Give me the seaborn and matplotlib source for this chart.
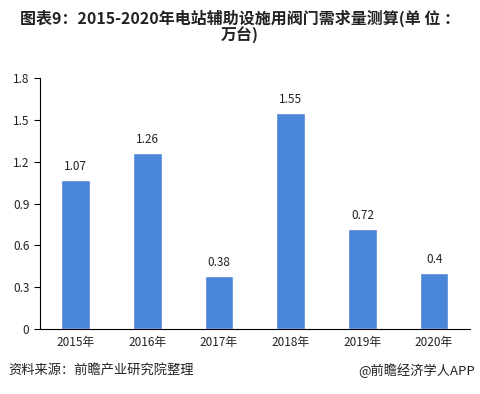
import matplotlib
matplotlib.use("Agg")
import matplotlib.pyplot as plt
import seaborn as sns
import pandas as pd

years = ["2015年", "2016年", "2017年", "2018年", "2019年", "2020年"]
demand = [1.07, 1.26, 0.38, 1.55, 0.72, 0.4]
value_labels = ["1.07", "1.26", "0.38", "1.55", "0.72", "0.4"]
y_ticks = [0, 0.3, 0.6, 0.9, 1.2, 1.5, 1.8]

sns.set_style("white")
plt.rcParams['font.family'] = ['Noto Sans CJK SC', 'DejaVu Sans']

df = pd.DataFrame({"year": years, "demand": demand})

fig = plt.figure(figsize=(4.8, 3.94), dpi=100)
ax = fig.add_axes([0.083, 0.165, 0.896, 0.637])
sns.barplot(data=df, x="year", y="demand", color="#4a86d8", saturation=1,
            width=0.4, ax=ax)

for i, (v, lab) in enumerate(zip(demand, value_labels)):
    ax.text(i, v + 0.05, lab, ha="center", va="bottom", fontsize=8.5, color="#222222")

ax.set_xlim(-0.5, len(years) - 0.5)
ax.set_ylim(0, 1.8)
ax.set_yticks(y_ticks)
ax.set_yticklabels([f"{t:g}" for t in y_ticks], fontsize=8.5, color="#222222")
ax.set_xlabel("")
ax.set_ylabel("")
ax.tick_params(axis="x", length=0, labelsize=8.5, labelcolor="#222222", pad=5)
ax.set_xticks([i + 0.5 for i in range(-1, len(years))], minor=True)
ax.tick_params(axis="x", which="minor", length=4, color="black", direction="out")
ax.tick_params(axis="y", length=4, color="black", direction="out", left=True)
for s in ["top", "right"]:
    ax.spines[s].set_visible(False)
for s in ["left", "bottom"]:
    ax.spines[s].set_color("black")
    ax.spines[s].set_linewidth(0.8)

fig.text(0.5, 0.975, "图表9：2015-2020年电站辅助设施用阀门需求量测算(单 位 ：\n万台)",
         ha="center", va="top", fontsize=11.5, fontweight="bold", color="#222222",
         linespacing=0.9)
fig.text(0.017, 0.06, "资料来源：前瞻产业研究院整理", ha="left", va="center",
         fontsize=9.5, color="#222222")
fig.text(0.99, 0.06, "@前瞻经济学人APP", ha="right", va="center",
         fontsize=9.5, color="#222222")

fig.savefig("out.png", dpi=100)
